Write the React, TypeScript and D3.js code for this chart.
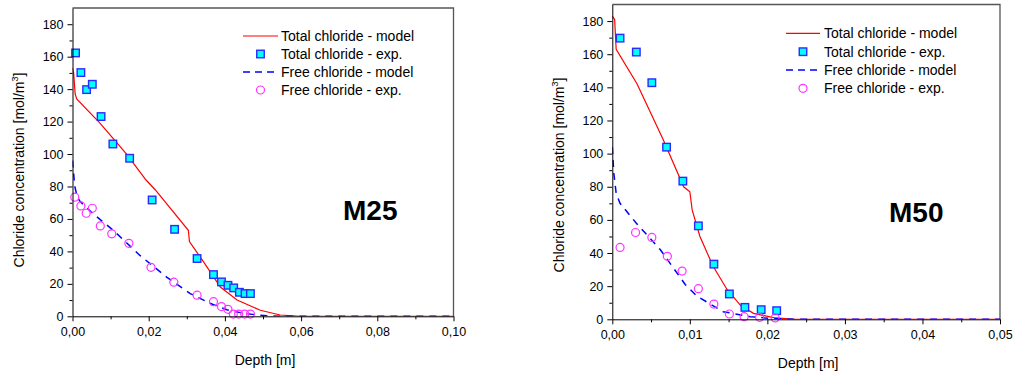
import {useEffect, useRef} from "react";
import * as d3 from "d3";

// ---- M25 data ----
const m25TotalModel: [number, number][] = [
    [0, 153], [0.0003, 150], [0.0007, 137], [0.0011, 134], [0.0072, 119], [0.0142, 100],
    [0.0193, 84], [0.0217, 78], [0.0304, 53], [0.0307, 46], [0.0344, 33.5], [0.0388, 18],
    [0.0432, 10], [0.0493, 3.7], [0.0545, 0.8], [0.0598, 0], [0.1, 0]
];
const m25TotalExp: [number, number][] = [
    [0.0008, 162.3], [0.0022, 150.2], [0.0037, 139.7], [0.0052, 143], [0.0075, 123.1],
    [0.0106, 106.2], [0.015, 97.4], [0.0209, 71.7], [0.0268, 53.6], [0.0327, 35.6],
    [0.037, 25.7], [0.0391, 21.2], [0.0408, 19.1], [0.0423, 17.5], [0.0438, 14.8],
    [0.0453, 14], [0.0467, 14]
];
const m25FreeModel: [number, number][] = [
    [0, 96], [0.0003, 88], [0.0006, 80], [0.0012, 74], [0.0019, 71], [0.0055, 63],
    [0.0107, 53], [0.0177, 37.5], [0.0248, 24], [0.0309, 14], [0.0361, 8], [0.0405, 4],
    [0.045, 1.8], [0.0493, 0.6], [0.055, 0], [0.1, 0]
];
const m25FreeExp: [number, number][] = [
    [0.0006, 73.4], [0.0022, 68], [0.0036, 63.5], [0.0052, 66.6], [0.0073, 55.7],
    [0.0103, 50.8], [0.0148, 45], [0.0206, 30.2], [0.0266, 21], [0.0327, 13], [0.037, 9],
    [0.0391, 6], [0.0408, 4.3], [0.0422, 1.4], [0.0436, 1.4], [0.0452, 1.4], [0.0467, 1.4]
];

// ---- M50 data ----
const m50TotalModel: [number, number][] = [
    [0, 183], [0.0003, 181], [0.0005, 163], [0.0032, 142], [0.0066, 108], [0.0092, 80],
    [0.01, 77], [0.0103, 66], [0.0113, 50], [0.013, 32], [0.0148, 18], [0.0165, 8.6],
    [0.0182, 3.6], [0.0208, 1], [0.0234, 0], [0.05, 0]
];
const m50TotalExp: [number, number][] = [
    [0.001, 169.7], [0.0031, 161.3], [0.0051, 142.8], [0.007, 103.9], [0.0091, 83.4],
    [0.0111, 56.4], [0.0131, 33.3], [0.0151, 15.3], [0.0171, 7.2], [0.0192, 5.8], [0.0212, 5.2]
];
const m50FreeModel: [number, number][] = [
    [0, 104], [0.0002, 88], [0.0005, 76], [0.001, 70], [0.0031, 58], [0.0062, 42],
    [0.0094, 21], [0.0109, 14], [0.0143, 4.6], [0.0178, 1.6], [0.0208, 0.4], [0.024, 0], [0.05, 0]
];
const m50FreeExp: [number, number][] = [
    [0.001, 43.4], [0.003, 52.4], [0.0051, 49.4], [0.0071, 38], [0.009, 29.1], [0.0111, 18.5],
    [0.0131, 9.2], [0.0151, 3.2], [0.017, 1.6], [0.019, 1.2], [0.021, 0.8]
];

const legendLabels = ["Total chloride - model", "Total chloride - exp.", "Free chloride - model", "Free chloride - exp."];
const yTicks = [0, 20, 40, 60, 80, 100, 120, 140, 160, 180];

function drawChart(svg, opt) {
    const {left, right, top, bottom, xMax, xStep, totalModel, totalExp, freeModel, freeExp, name, legend, nameX, nameY, yLabelX, yLabelY, xLabelY} = opt;
    const fmt = d => d3.format(xStep < 0.02 ? ".2f" : ".2f")(d).replace(".", ",");

    let x = d3.scaleLinear().domain([0, xMax]).range([left, right]);
    let y = d3.scaleLinear().domain([0, 190]).range([bottom, top]);

    let g = svg.append("g").attr("font-family", "Liberation Sans, Arial, sans-serif");

    // frame (top + right)
    g.append("path")
        .attr("d", `M${left},${top}H${right}V${bottom}`)
        .attr("fill", "none").attr("stroke", "#555").attr("stroke-width", 1.3);

    // clip for data
    const clipId = "clip-" + name;
    svg.append("clipPath").attr("id", clipId).append("rect")
        .attr("x", left).attr("y", top - 6).attr("width", right - left).attr("height", bottom - top + 6);

    let line = d3.line().x(d => x(d[0])).y(d => y(d[1]));
    let data = g.append("g").attr("clip-path", `url(#${clipId})`);

    data.append("path").datum(totalModel).attr("d", line)
        .attr("fill", "none").attr("stroke", "#ff0000").attr("stroke-width", 1.2);
    data.append("path").datum(freeModel).attr("d", line)
        .attr("fill", "none").attr("stroke", "#0000ff").attr("stroke-width", 1.5)
        .attr("stroke-dasharray", "7,6");

    const sq = 7.5;
    g.selectAll(".sq").data(totalExp).enter().append("rect")
        .attr("x", d => x(d[0]) - sq / 2).attr("y", d => y(d[1]) - sq / 2)
        .attr("width", sq).attr("height", sq)
        .attr("fill", "#00ffff").attr("stroke", "#2a2aff").attr("stroke-width", 1.4);

    g.selectAll(".ci").data(freeExp).enter().append("circle")
        .attr("cx", d => x(d[0])).attr("cy", d => y(d[1])).attr("r", 4)
        .attr("fill", "none").attr("stroke", "#ff33ff").attr("stroke-width", 1.2);

    // Y axis
    let yAxis = g.append("g").attr("transform", `translate(${left},0)`)
        .call(d3.axisLeft(y).tickValues(yTicks).tickSize(5).tickSizeOuter(0));
    yAxis.selectAll(".tick line").attr("stroke", "#000");
    yAxis.selectAll("text").attr("font-size", 12.5).attr("fill", "#000").attr("dx", -1).attr("font-family", "Liberation Sans, Arial, sans-serif");
    g.append("g").attr("transform", `translate(${left},0)`)
        .call(d3.axisLeft(y).tickValues(d3.range(10, 190, 20)).tickSize(3).tickFormat(() => ""))
        .select(".domain").remove();

    // X axis
    let xTicks = d3.range(0, xMax + xStep / 2, xStep);
    let xAxis = g.append("g").attr("transform", `translate(0,${bottom})`)
        .call(d3.axisBottom(x).tickValues(xTicks).tickSize(5).tickSizeOuter(0).tickFormat(fmt));
    xAxis.selectAll("text").attr("font-size", 12.5).attr("fill", "#000").attr("dy", "0.9em").attr("font-family", "Liberation Sans, Arial, sans-serif");
    g.append("g").attr("transform", `translate(0,${bottom})`)
        .call(d3.axisBottom(x).tickValues(d3.range(xStep / 2, xMax, xStep)).tickSize(3).tickFormat(() => ""))
        .select(".domain").remove();

    // axis titles
    g.append("text")
        .attr("text-anchor", "middle")
        .attr("x", (left + right) / 2 + 2).attr("y", xLabelY)
        .attr("font-size", 14).text("Depth [m]");

    let yl = g.append("text")
        .attr("text-anchor", "middle")
        .attr("transform", `translate(${yLabelX},${yLabelY}) rotate(-90)`)
        .attr("font-size", 14);
    yl.append("tspan").text("Chloride concentration [mol/m");
    yl.append("tspan").attr("dy", -6).attr("font-size", 9).text("3");
    yl.append("tspan").attr("dy", 6).text("]");

    // legend
    const {lx0, lx1, tx, rows} = legend;
    const sx = (lx0 + lx1) / 2;
    legendLabels.forEach((lab, i) => {
        const cy = rows[i];
        if (i === 0) g.append("line").attr("x1", lx0).attr("x2", lx1).attr("y1", cy).attr("y2", cy)
            .attr("stroke", "#ff0000").attr("stroke-width", 1.2);
        if (i === 1) g.append("rect").attr("x", sx - sq / 2).attr("y", cy - sq / 2).attr("width", sq).attr("height", sq)
            .attr("fill", "#00ffff").attr("stroke", "#2a2aff").attr("stroke-width", 1.4);
        if (i === 2) g.append("line").attr("x1", lx0).attr("x2", lx1).attr("y1", cy).attr("y2", cy)
            .attr("stroke", "#0000ff").attr("stroke-width", 1.5).attr("stroke-dasharray", "7,5");
        if (i === 3) g.append("circle").attr("cx", sx).attr("cy", cy).attr("r", 4)
            .attr("fill", "none").attr("stroke", "#ff33ff").attr("stroke-width", 1.2);
        g.append("text").attr("x", tx).attr("y", cy + 5).attr("font-size", 14).text(lab);
    });

    g.append("text").attr("x", nameX).attr("y", nameY)
        .attr("font-size", 28).attr("font-weight", "bold").text(name);
}

export default function App() {
    const ref = useRef(null);

    useEffect(() => {
        let svg = d3.select(ref.current);
        svg.selectAll("*").remove();

        drawChart(svg, {
            left: 72.5, right: 453.5, top: 8, bottom: 316.3, xMax: 0.1, xStep: 0.02,
            totalModel: m25TotalModel, totalExp: m25TotalExp, freeModel: m25FreeModel, freeExp: m25FreeExp,
            name: "M25", nameX: 343, nameY: 220, yLabelX: 24, yLabelY: 170, xLabelY: 365,
            legend: {lx0: 243, lx1: 278, tx: 281, rows: [36, 54, 72, 90]}
        });
        drawChart(svg, {
            left: 612.3, right: 1000, top: 4.5, bottom: 319.3, xMax: 0.05, xStep: 0.01,
            totalModel: m50TotalModel, totalExp: m50TotalExp, freeModel: m50FreeModel, freeExp: m50FreeExp,
            name: "M50", nameX: 889, nameY: 222, yLabelX: 564, yLabelY: 175, xLabelY: 368,
            legend: {lx0: 786, lx1: 820, tx: 824, rows: [33.3, 51.7, 70, 88.3]}
        });
    }, []);

    return <svg ref={ref} width={1014} height={374}
                style={{position: "absolute", left: 0, top: 0, background: "#fff"}}/>;
}
